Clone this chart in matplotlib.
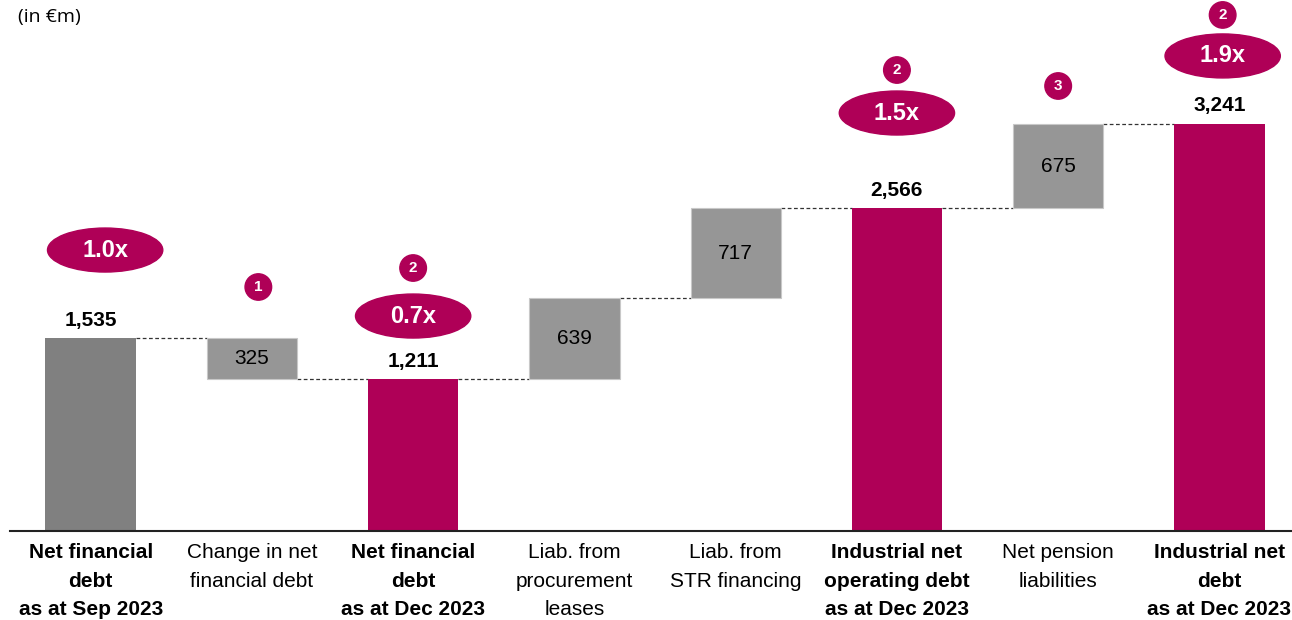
import numpy as np
import matplotlib.pyplot as plt
from matplotlib.patches import Ellipse

plt.rcParams['font.family'] = ['Liberation Sans', 'DejaVu Sans']

# data
labels = ["Net financial\ndebt\nas at Sep 2023",
          "Change in net\nfinancial debt",
          "Net financial\ndebt\nas at Dec 2023",
          "Liab. from\nprocurement\nleases",
          "Liab. from\nSTR financing",
          "Industrial net\noperating debt\nas at Dec 2023",
          "Net pension\nliabilities",
          "Industrial net\ndebt\nas at Dec 2023"]
values = [1535, -325, 1211, 639, 717, 2566, 675, 3241]
is_total = [True, False, True, False, False, True, False, True]
lev_labels = ["1.0x", None, "0.7x", None, None, "1.5x", None, "1.9x"]
lev_y = [2235, None, 1710, None, None, 3325, None, 3779]
notes = [None, "1", "2", None, None, "2", "3", "2"]
note_y = [None, 1941, 2092, None, None, 3667, 3540, 4105]

crimson = "#AF0057"
dark_gray = "#808080"
light_gray = "#969696"

fig = plt.figure(figsize=(12.92, 6.2), dpi=100)
ax = fig.add_axes([10/1292, 89/620, 1282/1292, 531/620])
ax.set_xlim(-0.5, 7.45)
ax.set_ylim(0, 4224)

w = 0.56
x = np.arange(len(values))
running = 0
bottoms, tops = [], []
for i, v in enumerate(values):
    if is_total[i]:
        b, t = 0, v
        running = v
    else:
        b = running + min(v, 0)
        t = running + max(v, 0)
        running = running + v
    bottoms.append(b)
    tops.append(t)

for i, v in enumerate(values):
    h = tops[i] - bottoms[i]
    if is_total[i]:
        col = dark_gray if i == 0 else crimson
        ax.bar(x[i], h, w, bottom=bottoms[i], color=col, zorder=2)
        ax.text(x[i], tops[i] + 65, f"{v:,}", ha='center', va='bottom',
                fontsize=15, fontweight='bold')
    else:
        ax.bar(x[i], h, w, bottom=bottoms[i], color=light_gray,
               edgecolor='#c8c8c8', linewidth=0.8, zorder=2)
        ax.text(x[i], bottoms[i] + h / 2, f"{abs(v):,}", ha='center',
                va='center', fontsize=15)

# connectors: level where the running total sits after each bar
for i in range(len(values) - 1):
    lvl = bottoms[i] if values[i] < 0 else tops[i]
    ax.plot([x[i] + w / 2, x[i + 1] - w / 2], [lvl, lvl], ls=(0, (3, 2)),
            color='#333333', lw=0.9, zorder=1)

# leverage ellipses
for i, lab in enumerate(lev_labels):
    if lab is None:
        continue
    cx = x[i] + (0.09 if i == 0 else 0.02 if i == 7 else 0)
    ax.add_patch(Ellipse((cx, lev_y[i]), 0.715, 350, color=crimson,
                         zorder=3, clip_on=False))
    ax.text(cx, lev_y[i], lab, ha='center', va='center', color='white',
            fontsize=17, fontweight='bold', zorder=4)

# footnote circles
for i, n in enumerate(notes):
    if n is None:
        continue
    cx = x[i] + (0.04 if i == 1 else 0.02 if i == 7 else 0)
    ax.add_patch(Ellipse((cx, note_y[i]), 0.165, 210, color=crimson,
                         zorder=3, clip_on=False))
    ax.text(cx, note_y[i], n, ha='center', va='center', color='white',
            fontsize=11, fontweight='bold', zorder=4)

for s in ['top', 'right', 'left']:
    ax.spines[s].set_visible(False)
ax.spines['bottom'].set_linewidth(1.5)
ax.spines['bottom'].set_color('#222222')
ax.set_yticks([])
ax.set_xticks(x)
ax.set_xticklabels(labels, fontsize=15, linespacing=1.62, va='top')
for lbl, tot in zip(ax.get_xticklabels(), is_total):
    if tot:
        lbl.set_fontweight('bold')
ax.tick_params(axis='x', length=0, pad=9)

fig.text(18/1292, 1 - 17/620, "(in €m)", ha='left', va='center', fontsize=14,
         family=['Open Sans', 'DejaVu Sans'])

fig.savefig("out.png", dpi=100)
